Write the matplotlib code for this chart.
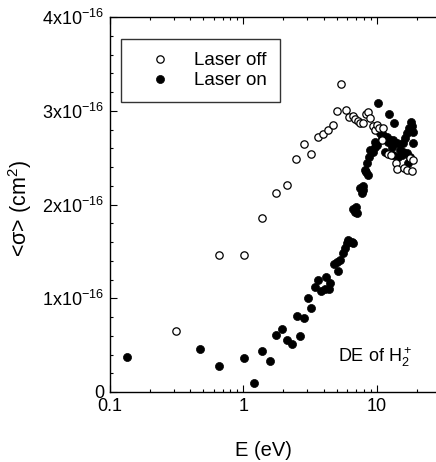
import numpy as np
import matplotlib
matplotlib.use('Agg')
import matplotlib.pyplot as plt
from matplotlib.ticker import FixedLocator, LogLocator, NullFormatter

plt.rcParams['font.family'] = ['Liberation Sans', 'DejaVu Sans']
plt.rcParams['mathtext.fontset'] = 'custom'
plt.rcParams['mathtext.rm'] = 'Liberation Sans'
plt.rcParams['mathtext.it'] = 'Liberation Sans:italic'

# laser off (open circles): energy in eV, cross section in 1e-16 cm^2
E_off = [0.311, 0.657, 1.017, 1.388, 1.748, 2.126, 2.483, 2.835, 3.236, 3.61,
         3.936, 4.34, 4.705, 5.07, 5.43, 5.856, 6.166, 6.607, 6.84, 7.2,
         7.54, 7.9, 8.27, 8.56, 8.91, 9.33, 9.66, 10.06, 10.47, 11.22,
         10.9, 12.24, 12.7, 13.96, 14.29, 16.03, 16.79, 18.5, 17.78, 18.84]
sig_off = [0.648, 1.457, 1.457, 1.859, 2.126, 2.205, 2.483, 2.646, 2.536, 2.725,
           2.75, 2.793, 2.85, 2.999, 3.288, 3.006, 2.931, 2.946, 2.917, 2.892,
           2.874, 2.871, 2.963, 2.992, 2.921, 2.839, 2.796, 2.85, 2.814, 2.821,
           2.689, 2.54, 2.529, 2.44, 2.379, 2.386, 2.369, 2.358, 2.493, 2.476]

# laser on (filled circles)
E_on = [0.133, 0.476, 0.653, 1.017, 1.209, 1.388, 1.585, 1.768, 1.94, 2.126,
        2.317, 2.51, 2.661, 2.85, 3.07, 3.22, 3.45, 3.61, 3.80, 4.10,
        4.17, 4.42, 4.47, 5.10, 4.81, 5.07, 5.31, 5.62, 5.79, 5.96,
        6.13, 6.49, 6.68, 6.68, 6.88, 7.08, 7.00, 7.50, 7.94, 7.72,
        7.85, 8.32, 8.66, 8.17, 8.41, 8.81, 8.91, 9.33, 9.72, 10.0,
        10.29, 10.59, 10.9, 11.22, 11.89, 12.24, 12.45, 12.59, 12.96, 13.18,
        13.34, 13.57, 14.13, 14.54, 14.96, 15.4, 15.67, 15.85, 16.31, 16.79,
        16.98, 17.28, 17.58, 17.78, 18.09, 18.41, 18.62, 18.84, 11.55, 9.72]
sig_on = [0.374, 0.463, 0.278, 0.363, 0.096, 0.435, 0.328, 0.606, 0.677, 0.552,
          0.516, 0.812, 0.598, 0.794, 1.004, 0.901, 1.115, 1.200, 1.079, 1.094,
          1.229, 1.104, 1.158, 1.289, 1.364, 1.389, 1.407, 1.478, 1.532, 1.585,
          1.621, 1.603, 1.585, 1.948, 1.923, 1.906, 1.970, 2.173, 2.155, 2.126,
          2.198, 2.351, 2.315, 2.369, 2.447, 2.511, 2.582, 2.565, 2.618, 2.636,
          3.081, 2.760, 2.707, 2.743, 2.725, 2.671, 2.963, 2.689, 2.618, 2.689,
          2.529, 2.874, 2.654, 2.511, 2.582, 2.529, 2.654, 2.565, 2.707, 2.547,
          2.760, 2.440, 2.814, 2.511, 2.885, 2.839, 2.661, 2.778, 2.565, 2.671]

y_ticks = [0, 1, 2, 3, 4]
y_labels = ['0', '1x10$^{-16}$', '2x10$^{-16}$', '3x10$^{-16}$', '4x10$^{-16}$']
x_ticks = [0.1, 1, 10]
x_labels = ['0.1', '1', '10']

fig = plt.figure(figsize=(4.36, 4.62), dpi=100)
ax = fig.add_axes([110 / 436, 70 / 462, 400 / 436, 375 / 462])

scale = 1e-16
ax.plot(E_off, np.array(sig_off) * scale, 'o', ms=5.3, mfc='white', mec='black',
        mew=0.9, label='Laser off', zorder=3)
ax.plot(E_on, np.array(sig_on) * scale, 'o', ms=5.8, mfc='black', mec='black',
        mew=0.5, label='Laser on', zorder=2)

ax.set_xscale('log')
ax.set_xlim(0.1, 100)
ax.set_ylim(0, 4e-16)

ax.set_xticks(x_ticks)
ax.set_xticklabels(x_labels)
ax.xaxis.set_minor_locator(LogLocator(base=10, subs=np.arange(2, 10)))
ax.xaxis.set_minor_formatter(NullFormatter())
ax.set_yticks([v * scale for v in y_ticks])
ax.set_yticklabels(y_labels)
ax.yaxis.set_minor_locator(FixedLocator(np.arange(0, 4.01, 0.2) * scale))

ax.tick_params(which='both', direction='in', top=True, right=True,
               labelsize=13, width=0.8, color='black')
ax.tick_params(which='major', length=5, pad=4)
ax.tick_params(which='minor', length=2.5)
for s in ax.spines.values():
    s.set_linewidth(1.0)

ax.set_xlabel('E (eV)', fontsize=14.5)
ax.xaxis.set_label_coords((263 - 110) / 400, -0.13)
ax.set_ylabel('<σ> (cm$^2$)', fontsize=15.5)
ax.yaxis.set_label_coords(-0.19, 0.49)

ax.text(5.1, 0.37e-16, 'DE of H$_2^+$', fontsize=13, ha='left', va='center')

leg = ax.legend(loc='upper left', bbox_to_anchor=(121 / 436, 1 - 39 / 462),
                bbox_transform=fig.transFigure, borderaxespad=0,
                fontsize=13.5, frameon=True, fancybox=False, edgecolor='black',
                handlelength=2.8, handletextpad=0.4, borderpad=0.7,
                labelspacing=0.15, numpoints=1)
leg.get_frame().set_linewidth(1.0)

fig.savefig('out.png', dpi=100)
